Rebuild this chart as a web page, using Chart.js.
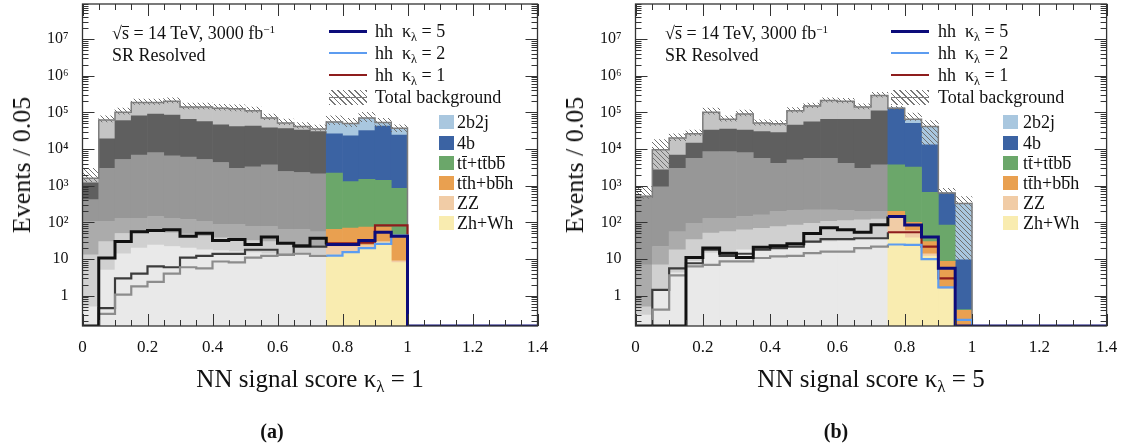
<!DOCTYPE html>
<html lang="en">
<head>
<meta charset="UTF-8">
<title>NN signal score</title>
<script src="https://cdn.jsdelivr.net/npm/chart.js"></script>
<style>
  body { margin: 0; background: #fff; }
  #wrap { position: relative; width: 1126px; height: 448px; overflow: hidden;
          font-family: 'Liberation Serif', 'Times New Roman', serif; color: #111; }
  canvas { position: absolute; top: 0; }
  .t { position: absolute; white-space: nowrap; line-height: 1; }
  .t sub { font-size: 0.68em; vertical-align: -0.32em; line-height: 0; }
  .t sup { font-size: 0.62em; vertical-align: 0.55em; line-height: 0; }
  .o { display: inline-block; line-height: 0.74em; border-top: 1px solid currentColor; }
  .ln { position: absolute; width: 38px; height: 0; }
  .bx { position: absolute; width: 15px; height: 14px; }
  .hatch { position: absolute; width: 38px; height: 15px;
           background: repeating-linear-gradient(45deg, #777 0 1px, transparent 1px 4px); }
</style>
</head>
<body>
<div id="wrap">
  <canvas id="ca" width="560" height="448" style="left:0"></canvas>
  <canvas id="cb" width="566" height="448" style="left:560px"></canvas>
</div>
<script>
const Y_MIN = 0.15, Y_MAX = 9e7;
const N_BINS = 28, BIN_W = 0.05, CUT = 15;   // bins from 0.75 on are drawn in colour
const binLabels = Array.from({length: N_BINS}, (_, i) => (i * BIN_W).toFixed(2));
const xTickLabels = ['0', '0.2', '0.4', '0.6', '0.8', '1', '1.2', '1.4'];
const yTickValues = [1, 10, 1e2, 1e3, 1e4, 1e5, 1e6, 1e7];
const yTickLabels = ['1', '10', '10²', '10³', '10⁴', '10⁵', '10⁶', '10⁷'];

// (a) NN for kappa = 1 : upper edge of each stacked layer, per bin of 0.05
const aTotal = [1600, 6.2e4, 1.0e5, 1.85e5, 1.85e5, 2.0e5, 1.4e5, 1.4e5, 1.3e5, 1.25e5, 1.1e5, 7.0e4, 5.1e4, 4.1e4, 3.5e4, 5.5e4, 5.0e4, 7.0e4, 5.3e4, 3.7e4];
const a4b    = [1200, 1.9e4, 6.0e4, 8.0e4, 9.0e4, 8.5e4, 6.5e4, 5.6e4, 4.6e4, 4.1e4, 4.2e4, 3.8e4, 3.6e4, 3.3e4, 3.0e4, 2.6e4, 2.3e4, 3.2e4, 4.2e4, 2.4e4];
const aTt    = [420, 3000, 5200, 6900, 8000, 6500, 6000, 5200, 4300, 3000, 3300, 3700, 2450, 2300, 2100, 2200, 1300, 1500, 1400, 850];
const aTth   = [107, 107, 130, 130, 145, 130, 120, 107, 88, 88, 78, 78, 64, 64, 56, 65, 70, 75, 75, 45];
const aZZ    = [13, 30, 50, 55, 58, 52, 48, 42, 38, 35, 32, 30, 27, 25, 23, 22, 22, 24, 30, 9];
const aZh    = [0.5, 5, 14, 20, 24, 22, 20, 18, 17, 16, 15, 14, 14, 13, 13, 13, 16, 20, 28, 8];
const aHatchLo = [1300, 5.5e4, 9.0e4, 1.65e5, 1.65e5, 1.8e5, 1.25e5, 1.25e5, 1.15e5, 1.1e5, 1.0e5, 6.3e4, 4.6e4, 3.7e4, 3.2e4, 4.6e4, 4.1e4, 5.6e4, 4.1e4, 3.0e4];
const aHatchHi = [3000, 8.0e4, 1.3e5, 2.3e5, 2.3e5, 2.5e5, 1.8e5, 1.8e5, 1.65e5, 1.6e5, 1.4e5, 9.0e4, 6.6e4, 5.3e4, 4.5e4, 8.0e4, 6.9e4, 1.0e5, 6.9e4, 4.6e4];
const aK5 = [0, 10.7, 30, 56, 60, 63, 42, 51, 32, 34, 25, 40, 27, 23, 37, 25, 25, 32, 54, 42];
const aK2 = [0, 0.32, 1.07, 1.8, 2.4, 4.0, 6.0, 5.6, 8.6, 8.1, 11, 12.3, 13, 14, 12.3, 12.5, 15.5, 20, 26, 44];
const aK1 = [0, 0.46, 3.0, 4.0, 6.3, 6.0, 11, 12.3, 13.8, 13.8, 18, 18, 13, 22, 22, 27, 27, 28, 83, 83];

// (b) NN for kappa = 5
const bTotal = [520, 9500, 2.0e4, 2.6e4, 1.0e5, 6.5e4, 9.0e4, 5.1e4, 4.9e4, 1.1e5, 1.5e5, 2.1e5, 2.0e5, 1.4e5, 2.9e5, 1.3e5, 6.5e4, 4.1e4, 630, 330];
const b4b    = [470, 2700, 6900, 1.45e4, 3.3e4, 3.5e4, 3.3e4, 3.0e4, 2.8e4, 4.5e4, 5.5e4, 6.5e4, 6.5e4, 6.5e4, 1.1e5, 1.3e5, 5.0e4, 1.3e4, 630, 9.6];
const bTt    = [460, 930, 3000, 5600, 8500, 8500, 8000, 5600, 4100, 5100, 5600, 5600, 4100, 3000, 3700, 3700, 3200, 660, 85, 0.42];
const bTth   = [7, 22, 56, 95, 130, 130, 145, 160, 200, 215, 220, 220, 215, 200, 200, 200, 100, 30, 8.7, 0.4];
const bZZ    = [0.5, 7, 18, 34, 51, 56, 63, 69, 77, 85, 95, 107, 112, 117, 123, 145, 60, 14, 1.6, 0];
const bZh    = [0.3, 1.5, 4.2, 8.7, 14.5, 16, 18, 20, 22, 24, 27, 30, 32, 34, 37, 49, 38, 12, 1.5, 0];
const bHatchLo = [450, 3000, 1.7e4, 2.3e4, 9.0e4, 5.8e4, 8.0e4, 4.5e4, 4.4e4, 1.0e5, 1.35e5, 1.9e5, 1.8e5, 1.25e5, 2.6e5, 1.2e5, 6.0e4, 1.3e4, 600, 9.6];
const bHatchHi = [950, 1.8e4, 2.6e4, 3.3e4, 1.3e5, 8.0e4, 1.15e5, 6.3e4, 6.0e4, 1.35e5, 1.8e5, 2.5e5, 2.4e5, 1.7e5, 3.5e5, 1.45e5, 9.5e4, 6.0e4, 850, 510];
const bK5 = [0, 0, 0, 11, 20, 14.5, 11, 21, 23, 26, 50, 72, 63, 54, 86, 145, 85, 40, 5.6, 0];
const bK2 = [0, 0.42, 3.6, 6.3, 7, 8.7, 8.7, 10.7, 11.8, 12.3, 14.5, 16, 16, 20, 22, 25, 24.5, 10, 1.7, 0.22];
const bK1 = [0, 1.45, 5.6, 7.7, 18, 12.3, 14, 18, 20, 22, 30, 35, 35, 37, 37, 54, 54, 22, 3, 0];

// layers bottom -> top
const bgColour = ['#f9ecb0', '#f1cca6', '#e9a050', '#6ba76a', '#3b63a3', '#a9c7df'];
const bgGrey   = ['#e9e9e9', '#d0d0d0', '#ababab', '#979797', '#5f5f5f', '#c4c4c4'];
const bgLabels = ['Zh+Wh', 'ZZ', 't<span class="o">t</span>h+b<span class="o">b</span>h',
                  't<span class="o">t</span>+t<span class="o">t</span>b<span class="o">b</span>', '4b', '2b2j'];
// signals: kappa 5, 2, 1
const sigColour = ['#0c0c7a', '#5c9cf0', '#8e1d1d'];
const sigGrey   = ['#111111', '#8c8c8c', '#3c3c3c'];
const sigWidth  = [3, 2.2, 2.2];
const sigLabels = ['hh&nbsp;&nbsp;κ<sub>λ</sub> = 5', 'hh&nbsp;&nbsp;κ<sub>λ</sub> = 2', 'hh&nbsp;&nbsp;κ<sub>λ</sub> = 1'];

const FONT = "'Liberation Serif', 'Times New Roman', serif";
const fl = v => (v > 0 ? v : Y_MIN);

function hatchPattern(ctx) {
  const c = document.createElement('canvas');
  c.width = c.height = 5;
  const g = c.getContext('2d');
  g.strokeStyle = '#707070';
  g.lineWidth = 1;
  g.beginPath();
  g.moveTo(-1, -1); g.lineTo(6, 6);
  g.moveTo(-1, 4); g.lineTo(1, 6);
  g.moveTo(4, -1); g.lineTo(6, 1);
  g.stroke();
  return ctx.createPattern(c, 'repeat');
}

// frame with inward ticks on all four sides
const frame = {
  id: 'frame',
  afterDraw(chart) {
    const {ctx, chartArea: a} = chart;
    const xs = chart.scales.xl, ys = chart.scales.y;
    ctx.save();
    ctx.strokeStyle = '#333';
    ctx.lineWidth = 1.3;
    ctx.strokeRect(a.left, a.top, a.right - a.left, a.bottom - a.top);
    ctx.lineWidth = 1;
    ctx.beginPath();
    for (let k = 0; k <= N_BINS; k++) {
      const px = Math.round(xs.getPixelForValue(k * BIN_W)) + 0.5;
      const len = k % 4 === 0 ? 12 : 6;
      ctx.moveTo(px, a.bottom); ctx.lineTo(px, a.bottom - len);
      ctx.moveTo(px, a.top); ctx.lineTo(px, a.top + len);
    }
    for (let e = -1; e <= 7; e++) {
      for (let m = 1; m <= 9; m++) {
        const v = m * Math.pow(10, e);
        if (v < Y_MIN || v > Y_MAX) continue;
        const py = Math.round(ys.getPixelForValue(v)) + 0.5;
        const len = m === 1 ? 12 : 6;
        ctx.moveTo(a.left, py); ctx.lineTo(a.left + len, py);
        ctx.moveTo(a.right, py); ctx.lineTo(a.right - len, py);
      }
    }
    ctx.stroke();
    ctx.restore();
  }
};

function stepPoints(vals, n) {
  const pts = [];
  for (let i = 0; i < n; i++) pts.push({x: i * BIN_W, y: fl(vals[i] || 0)});
  pts.push({x: n * BIN_W, y: Y_MIN});
  return pts;
}

function makePanel(canvas, geo, d) {
  const ctx = canvas.getContext('2d');
  const tops = [d.zh, d.zz, d.tth, d.tt, d.b4, d.total];
  const datasets = tops.map((top, k) => ({
    type: 'bar', xAxisID: 'x', yAxisID: 'y', order: 20,
    data: binLabels.map((_, i) => i < top.length ? [k ? fl(tops[k - 1][i]) : Y_MIN, fl(top[i])] : null),
    backgroundColor: c => (c.dataIndex < CUT ? bgGrey[k] : bgColour[k]),
    borderWidth: 0, grouped: false, barPercentage: 1, categoryPercentage: 1
  }));
  datasets.push({
    type: 'bar', xAxisID: 'x', yAxisID: 'y', order: 15,
    data: binLabels.map((_, i) => i < d.hatchLo.length ? [d.hatchLo[i], d.hatchHi[i]] : null),
    backgroundColor: hatchPattern(ctx), borderWidth: 0, grouped: false, barPercentage: 1, categoryPercentage: 1
  });
  datasets.push({
    type: 'line', xAxisID: 'xl', yAxisID: 'y', order: 10,
    data: stepPoints(d.total, d.total.length), stepped: true,
    borderColor: '#7d7d7d', borderWidth: 1.5, pointRadius: 0, fill: false
  });
  [d.k1, d.k2, d.k5].forEach((vals, j) => {
    const s = [2, 1, 0][j];
    datasets.push({
      type: 'line', xAxisID: 'xl', yAxisID: 'y', order: 5 - j,
      data: stepPoints(vals, N_BINS), stepped: true,
      borderColor: sigColour[s], borderWidth: sigWidth[s], pointRadius: 0, fill: false,
      segment: { borderColor: c => (c.p0DataIndex < CUT ? sigGrey[s] : sigColour[s]) }
    });
  });

  return new Chart(ctx, {
    type: 'bar',
    data: { labels: binLabels, datasets },
    options: {
      responsive: false, animation: false, events: [],
      layout: { padding: { left: 0, top: 4, right: canvas.width - geo.plotR, bottom: 0 } },
      plugins: { legend: { display: false }, tooltip: { enabled: false } },
      scales: {
        x: { type: 'category', display: false, offset: true },
        xl: {
          type: 'linear', position: 'bottom', min: 0, max: 1.4, offset: false,
          grid: { display: false, drawTicks: false, offset: false }, border: { display: false },
          ticks: { stepSize: 0.2, padding: 11, color: '#111', font: { family: FONT, size: 17 },
                   callback: (v, i) => xTickLabels[i] },
          afterFit: s => { s.height = 122; s.paddingLeft = 0; s.paddingRight = 0; }
        },
        y: {
          type: 'logarithmic', min: Y_MIN, max: Y_MAX, bounds: 'data',
          grid: { display: false, drawTicks: false }, border: { display: false },
          afterBuildTicks: s => { s.ticks = yTickValues.map(v => ({ value: v })); },
          ticks: { autoSkip: false, padding: 14, color: '#111', font: { family: FONT, size: 16 },
                   callback: (v, i) => yTickLabels[i] },
          afterFit: s => { s.width = geo.plotL; s.paddingTop = 0; s.paddingBottom = 0; }
        }
      }
    },
    plugins: [frame]
  });
}

const wrap = document.getElementById('wrap');
function txt(html, x, y, size, extra) {
  const el = document.createElement('div');
  el.className = 't';
  el.style.cssText = `left:${x}px;top:${y - size / 2}px;font-size:${size}px;` + (extra || '');
  el.innerHTML = html;
  wrap.appendChild(el);
}
function box(cls, x, y, style) {
  const el = document.createElement('div');
  el.className = cls;
  el.style.cssText = `left:${x}px;top:${y}px;` + style;
  wrap.appendChild(el);
}

function decorate(geo, kappa) {
  txt('√<span class="o">s</span> = 14 TeV, 3000 fb<sup>−1</sup>', geo.note, 33, 18);
  txt('SR Resolved', geo.note, 55, 18);
  const rows = [31, 53, 75];
  rows.forEach((y, s) => {
    box('ln', geo.lineX, y - sigWidth[s] / 2, `border-top:${sigWidth[s]}px solid ${sigColour[s]};`);
    txt(sigLabels[s], geo.lineTextX, y, 18);
  });
  box('hatch', geo.lineX, 90, '');
  box('ln', geo.lineX, 96.5, 'border-top:1.5px solid #7d7d7d;');
  txt('Total background', geo.lineTextX, 97, 18);
  const boxRows = [122, 142.5, 163, 183, 203, 223];
  for (let k = 5, r = 0; k >= 0; k--, r++) {
    box('bx', geo.boxX, boxRows[r] - 7, `background:${bgColour[k]};`);
    txt(bgLabels[k], geo.boxTextX, boxRows[r], 18);
  }
  txt(`NN signal score κ<sub>λ</sub> = ${kappa}`, geo.titleX, 378, 25, 'transform:translateX(-50%);');
  txt('Events / 0.05', geo.yTitleX, 165, 26, 'transform:translate(-50%,-50%) rotate(-90deg);top:165px;');
  txt(geo.tag, geo.tagX, 431, 20, 'transform:translateX(-50%);font-weight:bold;');
}

makePanel(document.getElementById('ca'), { plotL: 82.5, plotR: 537.5 },
  { total: aTotal, b4: a4b, tt: aTt, tth: aTth, zz: aZZ, zh: aZh,
    hatchLo: aHatchLo, hatchHi: aHatchHi, k5: aK5, k2: aK2, k1: aK1 });
makePanel(document.getElementById('cb'), { plotL: 75.5, plotR: 546.6 },
  { total: bTotal, b4: b4b, tt: bTt, tth: bTth, zz: bZZ, zh: bZh,
    hatchLo: bHatchLo, hatchHi: bHatchHi, k5: bK5, k2: bK2, k1: bK1 });

decorate({ note: 112, lineX: 329, lineTextX: 375, boxX: 439, boxTextX: 457,
           titleX: 310, yTitleX: 22, tag: '(a)', tagX: 272 }, 1);
decorate({ note: 665, lineX: 891, lineTextX: 938, boxX: 1003, boxTextX: 1023,
           titleX: 871, yTitleX: 575, tag: '(b)', tagX: 836 }, 5);
</script>
</body>
</html>
